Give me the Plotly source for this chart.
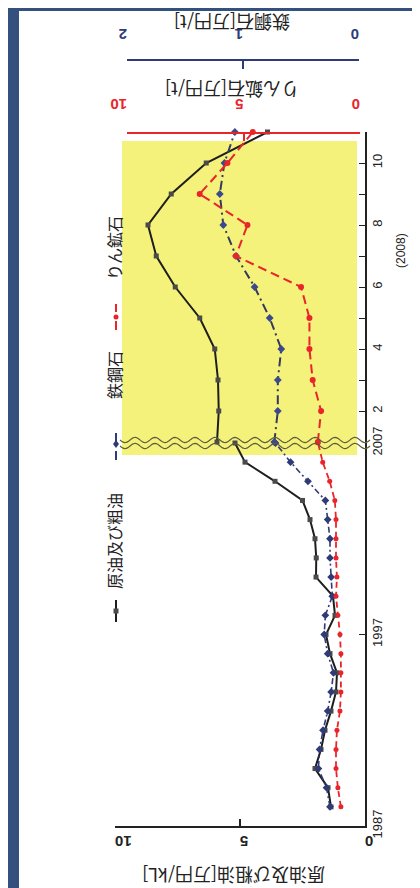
import numpy as np
import plotly.graph_objects as go

# ---------------- data ----------------
years = list(range(1988, 2008))
crude_annual = [1.36, 1.48, 2.00, 1.76, 1.60, 1.36, 1.16, 1.12, 1.40, 1.56,
                1.20, 1.28, 1.96, 1.95, 2.00, 2.20, 2.50, 3.60, 4.80, 5.20]
iron_annual = [0.25, 0.28, 0.35, 0.34, 0.31, 0.27, 0.24, 0.22, 0.27, 0.30,
               0.29, 0.23, 0.24, 0.25, 0.25, 0.27, 0.29, 0.44, 0.59, 0.72]
phos_annual = [0.82, 0.95, 1.03, 1.03, 0.99, 0.86, 0.82, 0.82, 0.82, 0.86,
               0.95, 1.03, 0.99, 1.03, 1.03, 1.03, 1.08, 1.30, 1.60, 1.80]

months = list(range(1, 12))  # 2008
crude_monthly = [5.92, 5.85, 5.88, 6.01, 6.61, 7.59, 8.35, 8.68, 7.75, 6.35, 3.90]
iron_monthly = [0.73, 0.70, 0.70, 0.67, 0.77, 0.90, 1.06, 1.17, 1.20, 1.16, 1.07]
phos_monthly = [1.81, 1.67, 2.03, 2.17, 2.17, 2.53, 5.33, 4.83, 6.88, 5.69, 4.60]

year_ticks = [1987, 1997, 2007]
month_labels = ["", "2", "", "4", "", "6", "", "8", "", "10", ""]
crude_ticks = [0, 5, 10]
iron_ticks = [0, 1, 2]
phos_ticks = [0, 5, 10]

name_crude = "原油及び粗油"
name_iron = "鉄鋼石"
name_phos = "りん鉱石"
title_crude = "原油及び粗油[万円/kL]"
title_iron = "鉄鋼石[万円/t]"
title_phos = "りん鉱石[万円/t]"

# ---------------- style ----------------
W, H = 420, 888
def px(v): return v / W
def py(v): return 1 - v / H

JP = "Noto Sans CJK JP"
NUM = "Liberation Sans, Arial, sans-serif"
C_CRUDE = "#1e1e1e"
C_CRUDE_M = "#4a4a4a"
C_IRON = "#2f3b78"
C_PHOS = "#e8262a"

fig = go.Figure()

def add(x, y, xa, ya, color, dash, symbol, size, width, mcolor):
    fig.add_trace(go.Scatter(
        x=x, y=y, xaxis=xa, yaxis=ya, mode="lines+markers",
        line=dict(color=color, width=width, dash=dash),
        marker=dict(symbol=symbol, size=size, color=mcolor),
        showlegend=False, cliponaxis=False, hoverinfo="x+y"))

# annual (1988-2007)
add(phos_annual, years, "x3", "y", C_PHOS, "6px,4px", "circle", 5, 1.8, C_PHOS)
add(iron_annual, years, "x2", "y", C_IRON, "6px,3px,2px,3px", "diamond", 6, 1.6, C_IRON)
add(crude_annual, years, "x", "y", C_CRUDE, "solid", "square", 5, 2, C_CRUDE_M)
# monthly (2008)
add(phos_monthly, months, "x3", "y2", C_PHOS, "9px,5px", "circle", 6, 2, C_PHOS)
add(iron_monthly, months, "x2", "y2", "#34395e", "9px,4px,2px,4px", "diamond", 6, 2, "#3b4a8a")
add(crude_monthly, months, "x", "y2", C_CRUDE, "solid", "square", 5, 2, C_CRUDE_M)

shapes = []
# white card on dark frame
shapes.append(dict(type="rect", xref="paper", yref="paper", x0=px(11), x1=px(405),
                   y0=py(884), y1=py(3), fillcolor="white", line=dict(width=0), layer="below"))
# yellow highlight for 2008
shapes.append(dict(type="rect", xref="paper", yref="paper", x0=px(114), x1=px(349),
                   y0=py(447), y1=py(133), fillcolor="#f5f27c", line=dict(width=0), layer="below"))
# wavy break lines
t = np.linspace(112, 362, 160)
for off in (-3, 3):
    yy = 435 + off + 2.6 * np.sin((t - 112) / 20.0 * 2 * np.pi)
    path = "M " + " L ".join(f"{px(a):.5f},{py(b):.5f}" for a, b in zip(t, yy))
    shapes.append(dict(type="path", xref="paper", yref="paper", path=path,
                       line=dict(color="#5d5d3a", width=1.2)))

# legend symbols (vertical)
def legend_line(xc, y0, y1, color, dash, width=2):
    shapes.append(dict(type="line", xref="paper", yref="paper", x0=px(xc), x1=px(xc),
                       y0=py(y0), y1=py(y1), line=dict(color=color, width=width, dash=dash)))
legend_line(108, 614, 592, C_CRUDE, "solid")
shapes.append(dict(type="rect", xref="paper", yref="paper", x0=px(105.5), x1=px(110.5),
                   y0=py(605.5), y1=py(600.5), fillcolor=C_CRUDE_M, line=dict(width=0)))
legend_line(108, 452, 420, C_IRON, "dash")
shapes.append(dict(type="path", xref="paper", yref="paper",
                   path=f"M {px(108)},{py(432)} L {px(111)},{py(436)} L {px(108)},{py(440)} L {px(105)},{py(436)} Z",
                   fillcolor=C_IRON, line=dict(width=0)))
legend_line(108, 322, 296, C_PHOS, "dash")
shapes.append(dict(type="circle", xref="paper", yref="paper", x0=px(105.5), x1=px(110.5),
                   y0=py(311.5), y1=py(306.5), fillcolor=C_PHOS, line=dict(width=0)))

annotations = []
def ann(text, x, y, angle, size, color="#222", family=JP):
    annotations.append(dict(text=text, xref="paper", yref="paper", x=px(x), y=py(y),
                            xanchor="center", yanchor="middle", showarrow=False,
                            textangle=angle, font=dict(size=size, color=color, family=family)))
ann(name_crude, 106, 533, -90, 16)
ann(name_iron, 106, 367, -90, 16)
ann(name_phos, 106, 240, -90, 16)
ann(title_iron, 224, 15, 180, 18)
ann(title_phos, 224, 82, 180, 18)
ann(title_crude, 226, 868, 180, 18)
ann("(2008)", 393, 243, -90, 12, family=NUM)

common = dict(showgrid=False, zeroline=False, automargin=False)

fig.update_layout(
    width=W, height=H, margin=dict(l=0, r=0, t=0, b=0, pad=0, autoexpand=False),
    paper_bgcolor="#33507f", plot_bgcolor="rgba(0,0,0,0)",
    showlegend=False, shapes=shapes, annotations=annotations,
    xaxis=dict(domain=[px(107), px(357)], range=[10, 0], anchor="y", side="bottom",
               tickvals=crude_ticks, ticks="inside", ticklen=7, tickwidth=1.5, tickcolor="#222",
               showline=True, linecolor="#222", linewidth=1.5, ticklabelstandoff=5,
               tickangle=180, tickfont=dict(size=15, color="#222", family=NUM, weight="bold"),
               **common),
    xaxis2=dict(domain=[px(119), px(351)], range=[2, 0], anchor="free", position=py(52),
                side="top", tickvals=iron_ticks, ticks="inside", ticklen=8, tickwidth=1.5,
                tickcolor=C_IRON, showline=True, linecolor=C_IRON, linewidth=1.5,
                ticklabelstandoff=9,
                tickangle=180, tickfont=dict(size=15, color=C_IRON, family=NUM, weight="bold"),
                **common),
    xaxis3=dict(domain=[px(119), px(352)], range=[10, 0], anchor="free", position=py(125),
                side="top", tickvals=phos_ticks, ticks="inside", ticklen=7, tickwidth=1.5,
                tickcolor=C_PHOS, showline=True, linecolor=C_PHOS, linewidth=1.5,
                ticklabelstandoff=12,
                tickangle=180, tickfont=dict(size=15, color=C_PHOS, family=NUM, weight="bold"),
                **common),
    yaxis=dict(domain=[py(818), py(435)], range=[1987, 2007], anchor="x", side="right",
               tickvals=year_ticks, ticktext=[str(v) for v in year_ticks], ticks="inside",
               ticklen=6, tickcolor="#222", showline=True, linecolor="#222", linewidth=1.5,
               tickangle=-90, tickfont=dict(size=13, color="#222", family=NUM), **common),
    yaxis2=dict(domain=[py(434), py(124)], range=[1, 11], anchor="x", side="right",
                tickvals=months, ticktext=month_labels, ticks="inside",
                ticklen=6, tickcolor="#222", showline=True, linecolor="#222", linewidth=1.5,
                tickangle=-90, tickfont=dict(size=13, color="#222", family=NUM), **common),
)

fig.write_html("out.html")
